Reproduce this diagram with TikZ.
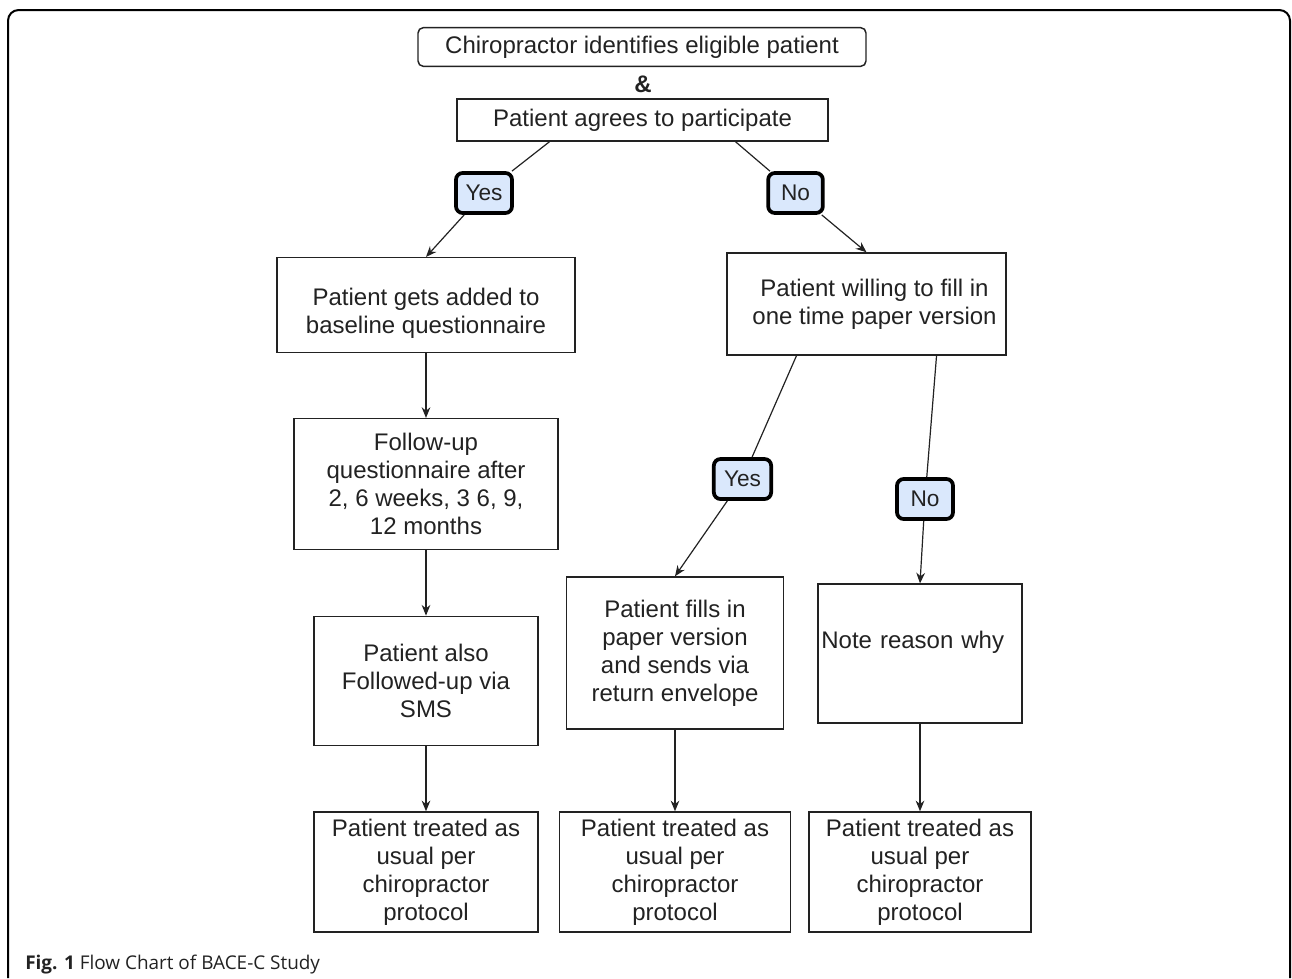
\documentclass[tikz,border=0pt]{standalone}
\usepackage{fontspec}
\setmainfont{Liberation Sans}
\newfontfamily\capfont{Open Sans}
\usetikzlibrary{arrows.meta,calc}
\definecolor{choicefill}{HTML}{DAE8FC}
\definecolor{inkgray}{HTML}{222222}
\newcommand\boxfont{\fontsize{18}{21}\selectfont}

\begin{document}
\begin{tikzpicture}[x=0.75pt,y=-0.75pt,
  flowbox/.style={draw=inkgray, line width=1.1pt, align=center, font=\boxfont, text=inkgray, inner sep=2pt},
  choice/.style={draw=black, line width=2.8pt, rounded corners=5pt, fill=choicefill, font=\fontsize{17}{20}\selectfont, text=inkgray, minimum height=30pt, inner sep=0pt},
  link/.style={draw=inkgray, line width=0.9pt},
  arr/.style={link, -{Stealth[length=8pt,width=6.5pt]}}]
\useasboundingbox (0,0) rectangle (1292,978);
% frame of the figure
\draw[line width=1.5pt, rounded corners=8pt] (8,978) -- (8,10) -- (1290,10) -- (1290,978);

% top
\node[flowbox, rounded corners=4pt, minimum width=336pt, minimum height=29pt] (chiro) at (642,47) {Chiropractor identifies eligible patient};
\node[font=\boxfont\bfseries, text=inkgray] (amp) at (643,84) {\&};
\node[flowbox, minimum width=278pt, minimum height=31.5pt] (agree) at (642.5,120) {Patient agrees to participate};
\node[choice, minimum width=42pt] (yesA) at (484,193) {Yes};
\node[choice, minimum width=41pt] (noA) at (795.5,193) {No};

% left column
\node[flowbox, minimum width=223.5pt, minimum height=71pt] (added) at (426,305) {\rule{0pt}{26pt}Patient gets added to\\baseline questionnaire};
\node[flowbox, minimum width=198pt, minimum height=98pt] (follow) at (426,484) {Follow-up\\questionnaire after\\2, 6 weeks, 3 6, 9,\\12 months};
\node[flowbox, minimum width=168pt, minimum height=97pt] (sms) at (426,681) {Patient also\\Followed-up via\\SMS};
\node[flowbox, minimum width=168pt, minimum height=90pt] (treatA) at (426,872) {Patient treated as\\usual per\\chiropractor\\protocol};

% right side
\node[flowbox, minimum width=209pt, minimum height=76.5pt] (willing) at (866.5,304) {\hspace*{12pt}Patient willing to fill in\\\hspace*{12pt}one time paper version};
\node[choice, minimum width=43pt] (yesB) at (742.5,479) {Yes};
\node[choice, minimum width=42pt] (noB) at (925,499) {No};
\node[flowbox, minimum width=163pt, minimum height=114pt] (fills) at (675,653) {Patient fills in\\paper version\\and sends via\\return envelope};
\node[flowbox, minimum width=153pt, minimum height=104pt, text width=148pt, align=left, inner xsep=2pt] (note) at (920,653.5) {Note reason why\\\mbox{}};
\node[flowbox, minimum width=173pt, minimum height=90pt] (treatB) at (675,872) {Patient treated as\\usual per\\chiropractor\\protocol};
\node[flowbox, minimum width=166.5pt, minimum height=90pt] (treatC) at (920,872) {Patient treated as\\usual per\\chiropractor\\protocol};

\node[anchor=base west, font=\capfont\fontsize{14.2}{16}\selectfont, text=inkgray, inner sep=0pt] (caption) at (25,969) {\textbf{Fig. 1} Flow Chart of BACE-C Study};

% connectors
\draw[link] ($(agree.south west)!0.25!(agree.south east)$) -- (yesA);
\draw[arr] (yesA) -- (added.north);
\draw[link] ($(agree.south west)!0.75!(agree.south east)$) -- (noA);
\draw[arr] (noA) -- (willing.north);
\draw[arr] (added.south) -- (follow.north);
\draw[arr] (follow.south) -- (sms.north);
\draw[arr] (sms.south) -- (treatA.north);
\draw[link] ($(willing.south west)!0.25!(willing.south east)$) -- (yesB);
\draw[arr] (yesB) -- (fills.north);
\draw[link] ($(willing.south west)!0.75!(willing.south east)$) -- (noB);
\draw[arr] (noB) -- (note.north);
\draw[arr] (fills.south) -- (treatB.north);
\draw[arr] (note.south) -- (treatC.north);
\end{tikzpicture}
\end{document}
